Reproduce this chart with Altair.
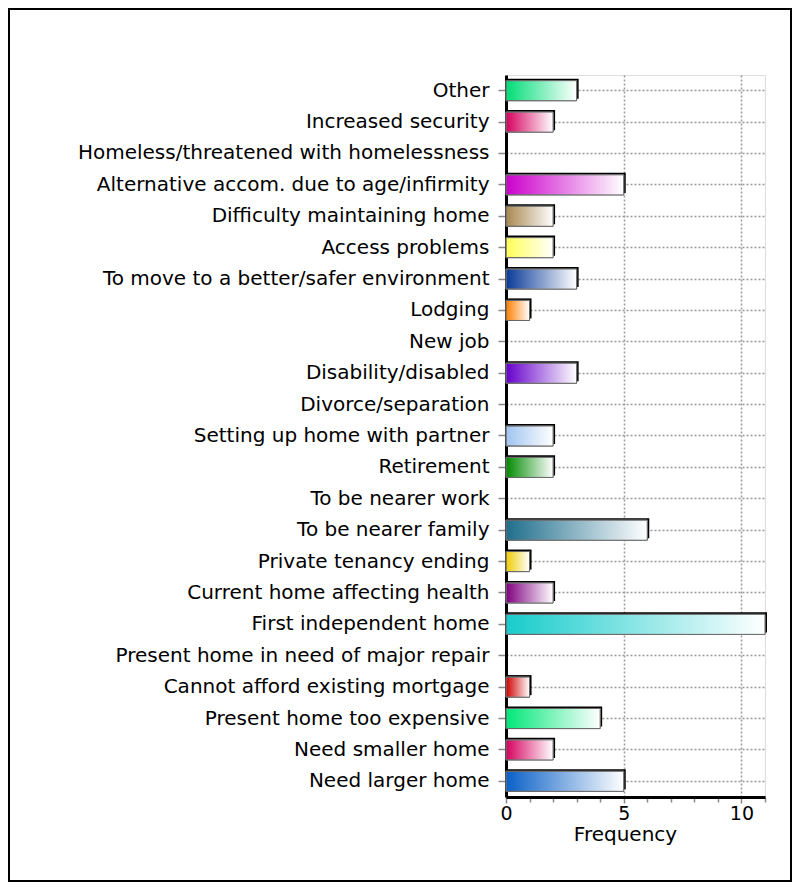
import altair as alt
import pandas as pd

categories = [
    "Other", "Increased security", "Homeless/threatened with homelessness",
    "Alternative accom. due to age/infirmity", "Difficulty maintaining home",
    "Access problems", "To move to a better/safer environment", "Lodging",
    "New job", "Disability/disabled", "Divorce/separation",
    "Setting up home with partner", "Retirement", "To be nearer work",
    "To be nearer family", "Private tenancy ending", "Current home affecting health",
    "First independent home", "Present home in need of major repair",
    "Cannot afford existing mortgage", "Present home too expensive",
    "Need smaller home", "Need larger home",
]
values = [3, 2, 0, 5, 2, 2, 3, 1, 0, 3, 0, 2, 2, 0, 6, 1, 2, 11, 0, 1, 4, 2, 5]
colors = [
    "#00DD77", "#D6005E", "#1060D0", "#CC00CC", "#A88850",
    "#FFFF55", "#0A3A98", "#FF7F00", "#00C000", "#6600CC",
    "#FF4040", "#A0C4F0", "#008A00", "#FF7F20", "#1F6E8C",
    "#EECC00", "#800080", "#18CCCC", "#FF9900", "#D00000",
    "#00E878", "#D6005E", "#0A60C8",
]

df = pd.DataFrame({"reason": categories, "freq": values, "color": colors})

FONT = "DejaVu Sans"

y_enc = alt.Y(
    "reason:N",
    sort=categories,
    scale=alt.Scale(domain=categories, paddingInner=0.36, paddingOuter=0.18),
    axis=alt.Axis(
        title=None,
        labelFont=FONT, labelFontSize=20, labelColor="black", labelPadding=9,
        tickColor="#888", tickSize=8, tickWidth=1.5,
        domainColor="black", domainWidth=3,
        grid=True, gridColor="#999", gridDash=[2, 2], gridWidth=1.5,
        bandPosition=0.5, labelLimit=700,
    ),
)
x_enc = alt.X(
    "freq:Q",
    scale=alt.Scale(domain=[0, 11], nice=False),
    axis=alt.Axis(
        title="Frequency", titleFont=FONT, titleFontSize=20, titleFontWeight="normal",
        titleColor="black", titlePadding=1, titleX=119,
        values=list(range(0, 12)),
        labelExpr="datum.value % 5 == 0 ? datum.label : ''",
        labelFont=FONT, labelFontSize=19, labelColor="black", labelPadding=1,
        labelFlush=False,
        tickColor="#888", tickWidth=1.5,
        tickSize={"condition": {"test": "datum.value % 5 == 0", "value": 6}, "value": 5},
        domainColor="black", domainWidth=3,
        grid=True, gridColor="#999", gridDash=[2, 2], gridWidth=1.5,
        gridOpacity={"condition": {"test": "datum.value % 5 == 0 && datum.value > 0", "value": 1}, "value": 0},
    ),
)

base = alt.Chart(df).encode(x=x_enc, y=y_enc)

shadow = base.transform_filter("datum.freq > 0").mark_bar(
    color="black", xOffset=2, yOffset=-2
)
solid = base.transform_filter("datum.freq > 0").mark_bar(
    stroke="#777", strokeWidth=1
).encode(fill=alt.Fill("color:N", scale=None))
gloss = base.transform_filter("datum.freq > 0").mark_bar(
    fill=alt.Gradient(
        gradient="linear",
        stops=[
            alt.GradientStop(offset=0, color="rgba(255,255,255,0)"),
            alt.GradientStop(offset=1, color="rgba(255,255,255,1)"),
        ],
        x1=0, x2=1, y1=0, y2=0,
    ),
    stroke="#666", strokeWidth=1,
)

frame = alt.Chart(pd.DataFrame({"a": [0]})).mark_rect(
    filled=False, stroke="black", strokeWidth=2
).encode(
    x=alt.value(-497), x2=alt.value(285),
    y=alt.value(-66), y2=alt.value(806),
)

chart = alt.layer(shadow, solid, gloss, frame).properties(
    width=259, height=722,
    autosize="none",
    padding={"left": 498, "top": 67, "right": 27, "bottom": 87},
).configure_view(stroke="black", strokeWidth=2.5).configure(background="white")

chart.save("out.html", embed_options={"renderer": "svg", "actions": False})
